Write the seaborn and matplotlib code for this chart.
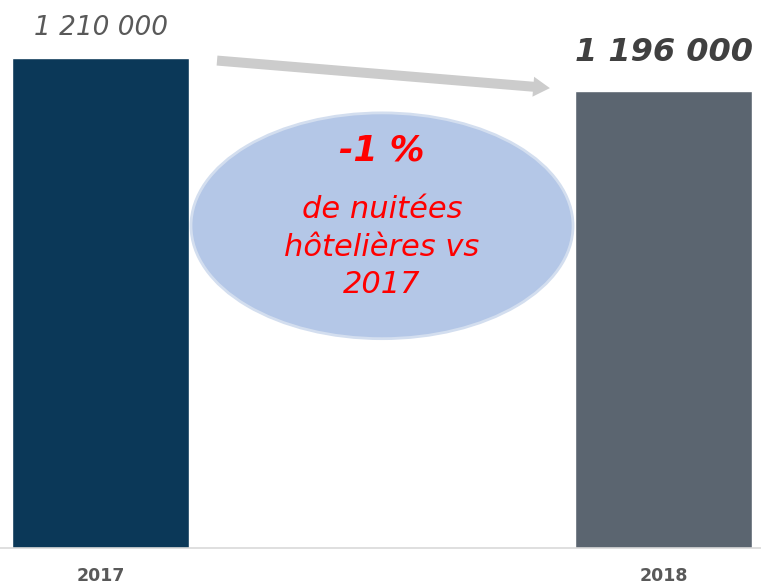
import matplotlib
matplotlib.use("Agg")
import matplotlib.pyplot as plt
from matplotlib.patches import Ellipse
import pandas as pd
import seaborn as sns

# ── data ─────────────────────────────────────────────────────────────────────
years = ["2017", "2018"]
nights = [1210000, 1196000]
bar_colors = ["#0b3858", "#5b6570"]
value_labels = ["1 210 000", "1 196 000"]
change_title = "-1 %"
change_text = "de nuitées\nhôtelières vs\n2017"

sns.set_theme(style="white")
plt.rcParams["font.family"] = ["DejaVu Sans"]

df = pd.DataFrame({"year": years, "nights": nights})

fig = plt.figure(figsize=(7.61, 5.87), dpi=100)
ax = fig.add_axes([0, 39 / 587, 1, 548 / 587])

width = 0.314
sns.barplot(data=df, x="year", y="nights", hue="year", palette=bar_colors,
            width=width, legend=False, saturation=1, ax=ax)

ax.set_xlim(-0.1785, 1.173)
ax.set_ylim(1000000, 1234857)

# axes cosmetics
for side in ["top", "left", "right"]:
    ax.spines[side].set_visible(False)
ax.spines["bottom"].set_color("#d9d9d9")
ax.spines["bottom"].set_linewidth(1.2)
ax.set_yticks([])
ax.set_xlabel("")
ax.set_ylabel("")
ax.tick_params(axis="x", length=0, pad=14)
for lbl in ax.get_xticklabels():
    lbl.set_fontweight("bold")
    lbl.set_color("#595959")
    lbl.set_fontsize(12.5)

# value labels
ax.text(0, nights[0] + 12900, value_labels[0], ha="center", va="center",
        fontsize=19, style="italic", color="#595959")
ax.text(1, nights[1] + 16500, value_labels[1], ha="center", va="center",
        fontsize=23, style="italic", fontweight="bold", color="#404040")

# arrow between bar tops
ax.annotate("", xy=(1 - width / 2 - 0.04, nights[1] + 1000),
            xytext=(width / 2 + 0.045, nights[0] - 1000),
            arrowprops=dict(arrowstyle="simple,head_length=1.0,head_width=1.2,tail_width=0.6",
                            color="#cccccc", lw=0))

# ellipse callout
ell = Ellipse((0.502, 0.588), 0.502, 0.412, transform=ax.transAxes,
              facecolor="#b4c7e7", edgecolor="#d3deef", lw=2, zorder=3)
ax.add_patch(ell)
ax.text(0.502, 0.726, change_title, transform=ax.transAxes, ha="center",
        va="center", fontsize=25, fontweight="bold", style="italic",
        color="#ff0000", zorder=4)
ax.text(0.502, 0.549, change_text, transform=ax.transAxes, ha="center",
        va="center", fontsize=22, style="italic", color="#ff0000",
        linespacing=1.38, zorder=4)

fig.savefig("out.png", dpi=100)
